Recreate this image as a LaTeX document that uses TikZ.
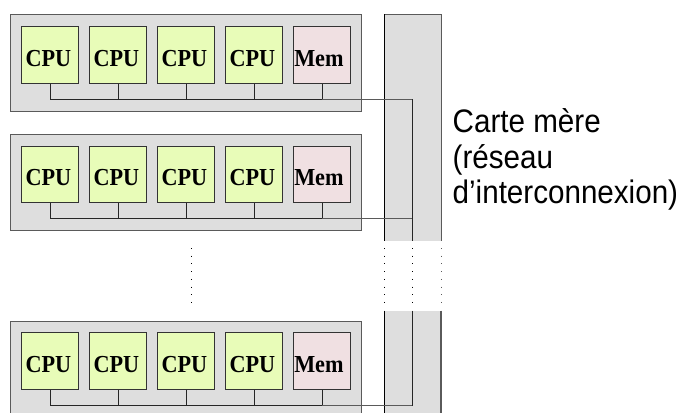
\documentclass[tikz,border=0pt]{standalone}
\usepackage{fontspec}
\setmainfont{Liberation Serif}[BoldFont={Liberation Serif Bold}]
\newfontfamily\labelfont{Liberation Sans}

\definecolor{boardgray}{HTML}{DEDEDE}
\definecolor{cpufill}{HTML}{E8FCB8}
\definecolor{memfill}{HTML}{F0E0E2}
\definecolor{edgegray}{HTML}{5A5A5A}

% slightly tall lettering used throughout
\newcommand{\tallbox}[1]{\scalebox{1}[1.1]{#1}}
% unit label, nudged to the left by half of #1
\newcommand{\unitlabel}[2]{\hspace*{-#1}\tallbox{#2}}

\tikzset{
  board/.style={draw=edgegray, fill=boardgray, line width=1pt, inner sep=0pt,
                minimum width=351pt, minimum height=96.2pt, anchor=north west},
  unit/.style={draw=black!80, line width=0.8pt, inner sep=0pt, anchor=north west,
               minimum width=57pt, minimum height=56.7pt,
               text height=23.4pt, text depth=0pt,
               font=\fontsize{22.2}{26}\selectfont\bfseries},
  cpu/.style={unit, fill=cpufill},
  mem/.style={unit, fill=memfill},
  bus/.style={line width=1.2pt, draw=black!85},
  link/.style={line width=1pt, draw=edgegray},
  dotline/.style={line width=1pt, dash pattern=on 1pt off 6.7pt},
  caption/.style={anchor=base west, inner sep=0pt,
                  font=\labelfont\fontsize{29.6}{34}\selectfont}
}

\begin{document}
\begin{tikzpicture}[x=1pt, y=-1pt]
  \useasboundingbox (0,0) rectangle (682,412);
  \clip (0,0) rectangle (682,412);

  % backplane (carte mere), split into an upper and a lower part
  \fill[boardgray] (384,14.5) rectangle (441,241);
  \fill[boardgray] (384,310.7) rectangle (441,420);
  \draw[edgegray, line width=1pt] (384,14.5) -- (441,14.5) -- (441,241);
  \draw[edgegray, line width=1.2pt] (441,310.7) -- (441,420);
  \draw[black, line width=1pt] (384,14.5) -- (384,241);
  \draw[black, line width=1pt] (384,310.7) -- (384,420);

  % the processor boards
  \foreach \b/\t in {1/14.5, 2/134, 3/320.7}{
    \node[board] (board\b) at (10,\t) {};
    \foreach \k/\x in {1/21.3, 2/89.3, 3/157.3, 4/225.3}
      \node[cpu] (cpu\b\k) at (\x,\t+11.5) {\unitlabel{3.6pt}{CPU}};
    \node[mem] (mem\b) at (293.3,\t+11.5) {\unitlabel{6.6pt}{Mem}};
    \coordinate (bus\b) at (412.5,\t+84.8);
    % local bus of the board
    \draw[bus] (cpu\b1.south) |- (mem\b.south |- bus\b) -- (mem\b.south);
    \foreach \k in {2,3,4}
      \draw[bus] (cpu\b\k.south) -- (cpu\b\k.south |- bus\b);
    % link to the interconnect
    \draw[link] (mem\b.south |- bus\b) -- (bus\b);
  }

  % interconnect line inside the backplane
  \coordinate (bpup) at (412.5,241);
  \coordinate (bplow) at (412.5,310.7);
  \draw[bus] (bus1) -- (bpup);
  \draw[bus] (bplow) -- (bus3);

  % vertical ellipsis between the boards
  \draw[dotline, black] (191.7,248) -- (191.7,303);
  \draw[dotline, black] (384,248) -- (384,303);
  \draw[dotline, black] (412.5,248) -- (412.5,303);
  \draw[dotline, edgegray] (441,248) -- (441,303);

  % caption
  \node[caption] (lbl1) at (452.5,132) {\tallbox{Carte mère}};
  \node[caption] (lbl2) at (452.5,168) {\tallbox{(réseau}};
  \node[caption] (lbl3) at (452.5,203) {\tallbox{d’interconnexion)}};
\end{tikzpicture}
\end{document}
